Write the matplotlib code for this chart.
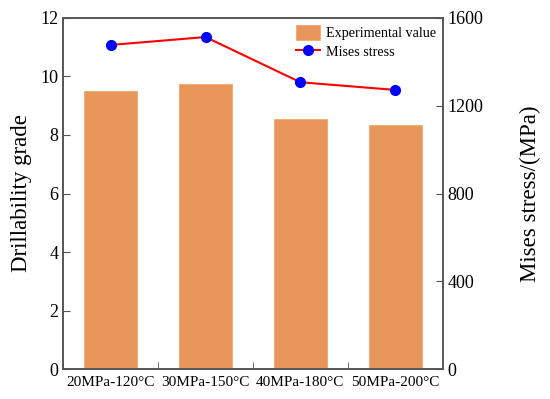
import matplotlib.pyplot as plt
import numpy as np

plt.rcParams['font.family'] = ['Liberation Serif', 'DejaVu Serif']

conditions = ['20MPa-120°C', '30MPa-150°C', '40MPa-180°C', '50MPa-200°C']
drillability = [9.50, 9.75, 8.55, 8.33]
mises = [1477, 1513, 1307, 1272]

fig, ax = plt.subplots(figsize=(5.5, 3.99), dpi=100)
fig.subplots_adjust(left=0.115, right=0.805, top=0.955, bottom=0.075)

x = np.arange(len(conditions))
bars = ax.bar(x, drillability, width=0.56, color='#E8965A', edgecolor='#F0A870',
              lw=0.6, label='Experimental value')
ax.set_xlim(-0.5, 3.5)
ax.set_ylim(0, 12)
ax.set_yticks([0, 2, 4, 6, 8, 10, 12])
ax.set_xticks(x)
ax.set_xticklabels(conditions, fontsize=11)
ax.set_xticks([0.5, 1.5, 2.5], minor=True)
ax.tick_params(axis='x', which='major', length=0, pad=5)
ax.tick_params(axis='x', which='minor', direction='in', length=5, color='#555555')
ax.tick_params(axis='y', direction='in', length=5, labelsize=13, color='#555555')
ax.set_ylabel('Drillability grade', fontsize=16.5, labelpad=6)

ax2 = ax.twinx()
line, = ax2.plot(x, mises, color='red', lw=1.5, marker='o', markersize=7,
                 markerfacecolor='blue', markeredgecolor='blue', label='Mises stress')
ax2.set_ylim(0, 1600)
ax2.set_yticks([0, 400, 800, 1200, 1600])
ax2.tick_params(axis='y', direction='in', length=5, labelsize=13, color='#555555')
ax2.set_ylabel('Mises stress/(MPa)', fontsize=16.5, labelpad=26)

for a in (ax, ax2):
    for s in a.spines.values():
        s.set_color('#555555')
        s.set_linewidth(1.2)

ax2.legend([bars, line], ['Experimental value', 'Mises stress'], loc='upper right',
           frameon=False, fontsize=10.2, handlelength=1.7, handleheight=1.2,
           borderaxespad=0.1, labelspacing=0.3, handletextpad=0.4)

fig.savefig('out.png')
